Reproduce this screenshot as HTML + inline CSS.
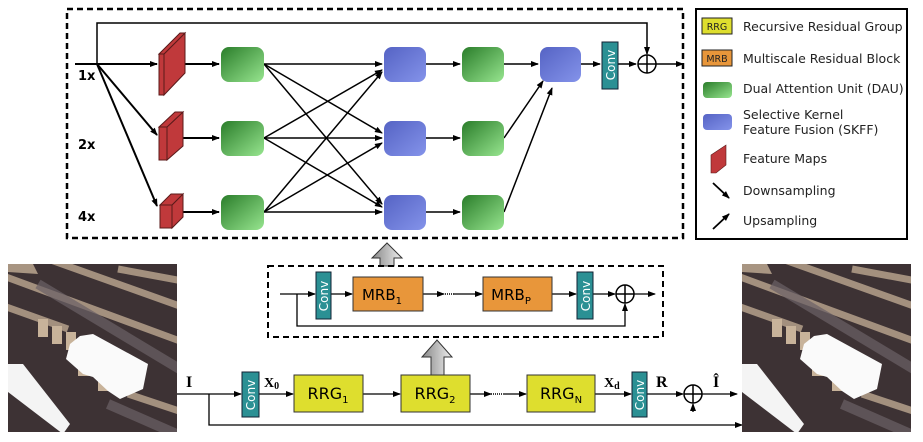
<!DOCTYPE html>
<html><head><meta charset="utf-8"><style>
html,body{margin:0;padding:0;background:#fff;}
svg{display:block;font-family:"DejaVu Sans","Liberation Sans",sans-serif;}
</style></head><body>
<svg width="923" height="442" viewBox="0 0 923 442" xmlns="http://www.w3.org/2000/svg">
<defs>
<marker id="a" markerWidth="8" markerHeight="8" refX="7" refY="4" orient="auto" markerUnits="userSpaceOnUse"><path d="M0,1 L8,4 L0,7 z" fill="#000"/></marker>
<linearGradient id="g" x1="0" y1="0" x2="1" y2="1"><stop offset="0" stop-color="#2a7d2a"/><stop offset="1" stop-color="#97e58f"/></linearGradient>
<linearGradient id="b" x1="0" y1="0" x2="1" y2="1"><stop offset="0" stop-color="#5563c4"/><stop offset="1" stop-color="#8493ea"/></linearGradient>
<linearGradient id="gr" x1="0" y1="0" x2="1" y2="0"><stop offset="0" stop-color="#888"/><stop offset="1" stop-color="#eee"/></linearGradient>
<clipPath id="ic"><rect x="0" y="0" width="169" height="168"/></clipPath>
<g id="img" clip-path="url(#ic)">
<rect width="169" height="168" fill="#3d3234"/>
<g stroke="#b5a18c" stroke-width="7" opacity="0.85">
<line x1="-10" y1="10" x2="180" y2="80"/><line x1="40" y1="-5" x2="180" y2="45"/>
<line x1="110" y1="5" x2="180" y2="18"/><line x1="-10" y1="40" x2="60" y2="65"/>
<line x1="120" y1="130" x2="180" y2="150"/>
</g>
<g stroke="#6b6166" stroke-width="10" opacity="0.7"><line x1="30" y1="20" x2="180" y2="110"/><line x1="100" y1="140" x2="180" y2="175"/></g>
<g fill="#c8b39a"><rect x="30" y="55" width="10" height="18"/><rect x="44" y="62" width="10" height="18"/><rect x="58" y="68" width="10" height="18"/><rect x="70" y="100" width="12" height="12"/><rect x="90" y="115" width="12" height="12"/></g>
<polygon points="72,72 85,70 140,100 135,125 112,135 100,127 85,113 75,110 58,95 62,80" fill="#fafafa"/>
<polygon points="0,100 15,100 62,160 55,170 0,128" fill="#f4f4f4"/>
<polygon points="0,0 25,0 30,10 0,8" fill="#a89582"/>
</g>
</defs>

<rect x="67" y="9" width="616" height="229" fill="none" stroke="#000" stroke-width="2.5" stroke-dasharray="6,4"/>
<g stroke="#000" stroke-width="2" fill="none">
<line x1="75" y1="64" x2="157" y2="64" marker-end="url(#a)"/>
<line x1="97" y1="64" x2="157" y2="135" marker-end="url(#a)"/>
<line x1="97" y1="64" x2="157" y2="206" marker-end="url(#a)"/>
<polyline points="97,64 97,23 647,23 647,54" stroke-width="1.5" marker-end="url(#a)"/>
<line x1="175" y1="64" x2="219" y2="64" marker-end="url(#a)"/>
<line x1="175" y1="138" x2="219" y2="138" marker-end="url(#a)"/>
<line x1="175" y1="212" x2="219" y2="212" marker-end="url(#a)"/>
</g>
<g fill="#c0393b" stroke="#5a1a1a" stroke-width="1">
<polygon points="164,54 185,33 185,73 164,95"/><polygon points="159,54 180,33 185,33 164,54"/><rect x="159" y="54" width="5" height="41"/>
<polygon points="167,127 183,112 183,146 167,160"/><polygon points="159,127 175,112 183,112 167,127"/><rect x="159" y="127" width="8" height="33"/>
<polygon points="172,205 183,194 183,217 172,228"/><polygon points="160,205 171,194 183,194 172,205"/><rect x="160" y="205" width="12" height="23"/>
</g>
<g stroke="#000" stroke-width="1.5" marker-end="url(#a)">
<line x1="264" y1="64" x2="382" y2="64"/><line x1="264" y1="64" x2="382" y2="133"/><line x1="264" y1="64" x2="382" y2="204"/>
<line x1="264" y1="138" x2="382" y2="70"/><line x1="264" y1="138" x2="382" y2="138"/><line x1="264" y1="138" x2="382" y2="207"/>
<line x1="264" y1="212" x2="382" y2="72"/><line x1="264" y1="212" x2="382" y2="143"/><line x1="264" y1="212" x2="382" y2="212"/>
<line x1="426" y1="64" x2="460" y2="64"/><line x1="426" y1="138" x2="460" y2="138"/><line x1="426" y1="212" x2="460" y2="212"/>
<line x1="504" y1="64" x2="538" y2="64"/><line x1="504" y1="138" x2="543" y2="81"/><line x1="504" y1="212" x2="552" y2="88"/>
<line x1="581" y1="64" x2="600" y2="64"/><line x1="618" y1="64" x2="636" y2="64"/><line x1="656" y1="64" x2="683" y2="64"/>
</g>
<g fill="url(#g)"><rect x="221" y="47" width="43" height="35" rx="8"/><rect x="221" y="121" width="43" height="35" rx="8"/><rect x="221" y="195" width="43" height="35" rx="8"/>
<rect x="462" y="47" width="42" height="35" rx="8"/><rect x="462" y="121" width="42" height="35" rx="8"/><rect x="462" y="195" width="42" height="35" rx="8"/></g>
<g fill="url(#b)"><rect x="384" y="47" width="42" height="35" rx="8"/><rect x="384" y="121" width="42" height="35" rx="8"/><rect x="384" y="195" width="42" height="35" rx="8"/><rect x="540" y="47" width="41" height="35" rx="8"/></g>
<rect x="602" y="42" width="16" height="47" fill="#2b9094" stroke="#123" stroke-width="1"/>
<text transform="translate(615,65) rotate(-90)" text-anchor="middle" fill="#fff" font-size="12">Conv</text>
<circle cx="647" cy="64" r="9" fill="#fff" stroke="#000" stroke-width="1.5"/><path d="M638,64 H656 M647,55 V73" stroke="#000" stroke-width="1.5"/>
<g font-weight="bold" font-size="13"><text x="78" y="80">1x</text><text x="78" y="149">2x</text><text x="78" y="221">4x</text></g>

<rect x="696" y="9" width="211" height="230" fill="none" stroke="#000" stroke-width="2"/>
<g font-size="12.5" fill="#222">
<rect x="702" y="18" width="30" height="16" fill="#dede2e" stroke="#222"/><text x="717" y="30" text-anchor="middle" font-size="9.5">RRG</text><text x="743" y="31">Recursive Residual Group</text>
<rect x="702" y="50" width="30" height="16" fill="#e8963a" stroke="#222"/><text x="717" y="62" text-anchor="middle" font-size="9.5">MRB</text><text x="743" y="63">Multiscale Residual Block</text>
<rect x="703" y="82" width="29" height="16" rx="4" fill="url(#g)"/><text x="743" y="93">Dual Attention Unit (DAU)</text>
<rect x="703" y="114" width="29" height="16" rx="4" fill="url(#b)"/><text x="743" y="119">Selective Kernel</text><text x="743" y="134">Feature Fusion (SKFF)</text>
<polygon points="711,155 726,145 726,165 716,173 711,173" fill="#c0393b" stroke="#5a1a1a" stroke-width="0.6"/><text x="743" y="163">Feature Maps</text>
<line x1="713" y1="183" x2="729" y2="198" stroke="#000" stroke-width="1.8" marker-end="url(#a)"/><text x="743" y="195">Downsampling</text>
<line x1="713" y1="229" x2="729" y2="214" stroke="#000" stroke-width="1.8" marker-end="url(#a)"/><text x="743" y="225">Upsampling</text>
</g>

<polygon points="380,266 380,258 372,258 387,243 402,258 394,258 394,266" fill="url(#gr)" stroke="#333"/>
<polygon points="431,375 431,357 422,357 437,340 452,357 444,357 444,375" fill="url(#gr)" stroke="#333"/>

<rect x="268" y="266" width="395" height="71" fill="none" stroke="#000" stroke-width="2" stroke-dasharray="6,4"/>
<g stroke="#000" stroke-width="1.3" fill="none" marker-end="url(#a)">
<line x1="280" y1="294" x2="315" y2="294"/><line x1="331" y1="294" x2="352" y2="294"/>
<line x1="423" y1="294" x2="444" y2="294"/><line x1="454" y1="294" x2="482" y2="294"/>
<line x1="552" y1="294" x2="576" y2="294"/><line x1="593" y1="294" x2="615" y2="294"/>
<line x1="634" y1="294" x2="655" y2="294"/>
<polyline points="297,294 297,326 625,326 625,304"/>
</g>
<line x1="445" y1="294" x2="454" y2="294" stroke="#000" stroke-width="1.5" stroke-dasharray="1,1"/>
<rect x="316" y="272" width="15" height="47" fill="#2b9094" stroke="#123"/><text transform="translate(328,296) rotate(-90)" text-anchor="middle" fill="#fff" font-size="12">Conv</text>
<rect x="577" y="272" width="16" height="47" fill="#2b9094" stroke="#123"/><text transform="translate(590,296) rotate(-90)" text-anchor="middle" fill="#fff" font-size="12">Conv</text>
<rect x="353" y="277" width="70" height="34" fill="#e8963a" stroke="#333"/><text x="382" y="300" text-anchor="middle" font-size="15">MRB<tspan font-size="10" dy="4">1</tspan></text>
<rect x="483" y="277" width="69" height="34" fill="#e8963a" stroke="#333"/><text x="511" y="300" text-anchor="middle" font-size="15">MRB<tspan font-size="10" dy="4">P</tspan></text>
<circle cx="625" cy="294" r="9" fill="#fff" stroke="#000" stroke-width="1.5"/><path d="M616,294 H634 M625,285 V303" stroke="#000" stroke-width="1.5"/>

<g stroke="#000" stroke-width="1.3" fill="none" marker-end="url(#a)">
<line x1="177" y1="394" x2="241" y2="394"/><line x1="259" y1="394" x2="293" y2="394"/>
<line x1="363" y1="394" x2="400" y2="394"/><line x1="470" y1="394" x2="491" y2="394"/>
<line x1="503" y1="394" x2="526" y2="394"/><line x1="595" y1="394" x2="631" y2="394"/>
<line x1="647" y1="394" x2="683" y2="394"/><line x1="702" y1="394" x2="737" y2="394"/>
<polyline points="209,394 209,425 742,425"/>
<line x1="693" y1="412" x2="693" y2="404"/>
</g>
<line x1="491" y1="394" x2="503" y2="394" stroke="#000" stroke-width="1.5" stroke-dasharray="1,1"/>
<rect x="242" y="372" width="17" height="45" fill="#2b9094" stroke="#123"/><text transform="translate(255,395) rotate(-90)" text-anchor="middle" fill="#fff" font-size="12">Conv</text>
<rect x="632" y="372" width="15" height="45" fill="#2b9094" stroke="#123"/><text transform="translate(644,395) rotate(-90)" text-anchor="middle" fill="#fff" font-size="12">Conv</text>
<g fill="#dede2e" stroke="#333"><rect x="294" y="375" width="69" height="37"/><rect x="401" y="375" width="69" height="37"/><rect x="527" y="375" width="68" height="37"/></g>
<g font-size="16" text-anchor="middle"><text x="328" y="399">RRG<tspan font-size="10" dy="4">1</tspan></text><text x="435" y="399">RRG<tspan font-size="10" dy="4">2</tspan></text><text x="561" y="399">RRG<tspan font-size="10" dy="4">N</tspan></text></g>
<circle cx="693" cy="394" r="9" fill="#fff" stroke="#000" stroke-width="1.5"/><path d="M684,394 H702 M693,385 V403" stroke="#000" stroke-width="1.5"/>
<g font-family="'Liberation Serif',serif" font-size="16" font-weight="bold">
<text x="186" y="387">I</text><text x="264" y="387" font-size="14">X<tspan font-size="10" dy="2">0</tspan></text>
<text x="604" y="387" font-size="14">X<tspan font-size="10" dy="2">d</tspan></text><text x="656" y="387">R</text><text x="713" y="387">Î</text></g>

<use href="#img" x="8" y="264"/>
<use href="#img" x="742" y="264"/>
</svg>
</body></html>
